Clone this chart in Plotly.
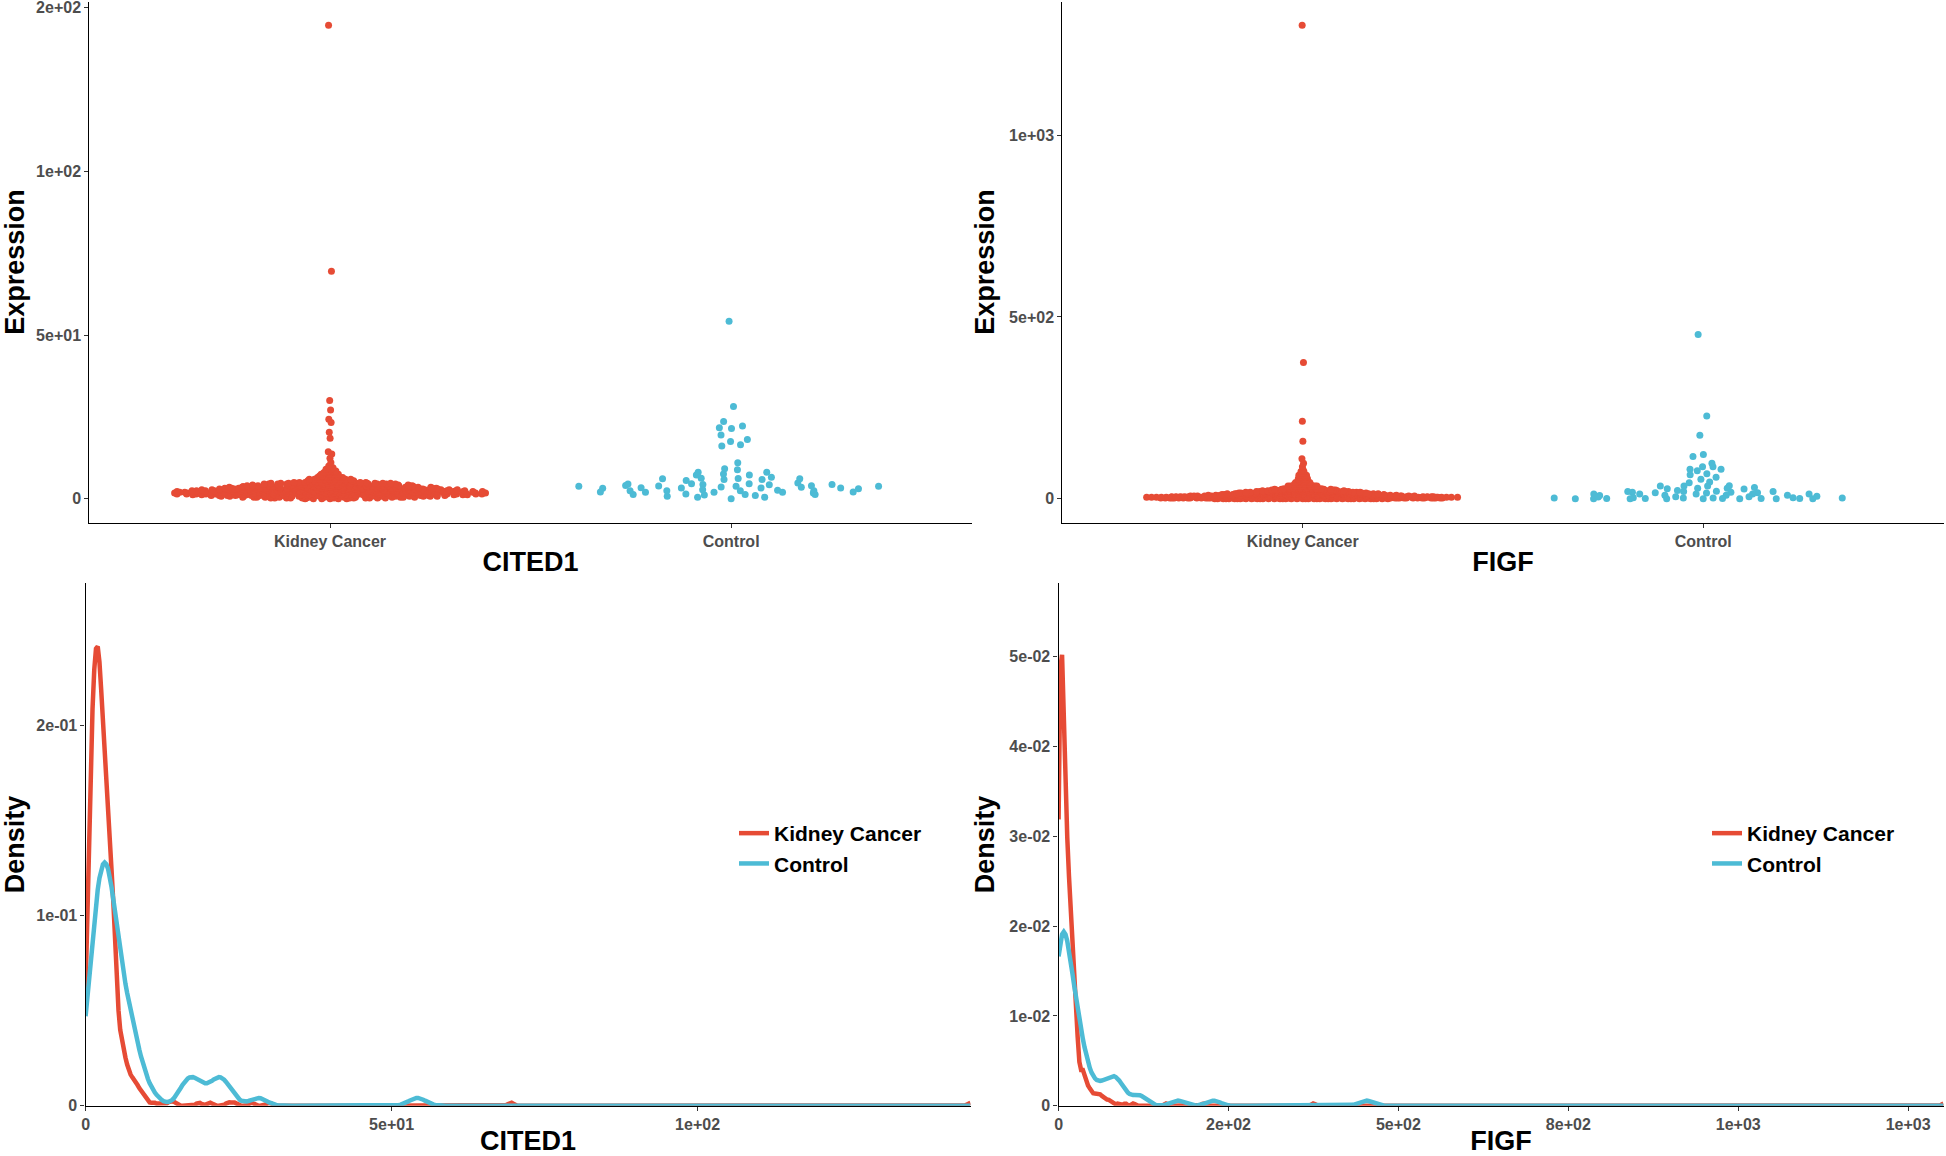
import numpy as np
import plotly.graph_objects as go

# ---------------- data ----------------
groups = ["Kidney Cancer", "Control"]

# CITED1, Kidney Cancer: bulk as value/count table plus the individual high points
cited1_kidney_values = [0.0, 0.25, 0.5, 0.75, 1.0, 1.25, 1.5, 1.75, 2.0, 2.25, 2.5, 2.75,
                        3.0, 3.25, 3.5, 3.75, 4.0, 4.25, 4.5, 4.75, 5.0,
                        5.5, 6.0, 6.5, 7.0, 7.5, 8.0, 8.5, 9.0, 9.5, 10.0]
cited1_kidney_counts = [6, 15, 20, 24, 28, 32, 34, 35, 35, 34, 31, 28,
                        26, 24, 22, 20, 19, 17, 16, 14, 12,
                        11, 9, 7, 5, 4, 4, 3, 2, 2, 1]
cited1_kidney_single = [11.1, 12.4, 13.7, 14.4, 18.5, 20.3, 23.3, 24.3, 27.1, 30.0, 69.5, 144.6]

cited1_control = [3.8, 3.3, 2.1, 4.4, 2.6, 3.4, 1.3, 2.0, 3.9, 5.9, 4.8, 2.5, 0.8, 3.3, 6.3,
                  4.6, 1.5, 7.6, 6.2, 4.1, 2.5, 0.5, 1.2, 2.0, 9.2, 8.1, 7.3, 5.6, 3.6, 0.0,
                  11.0, 3.8, 6.1, 8.1, 2.5, 1.3, 8.9, 6.6, 4.5, 1.0, 3.2, 0.5, 7.3, 6.1, 4.4,
                  2.8, 2.0, 5.9, 4.6, 3.5, 4.0, 2.5, 1.3, 1.8, 4.3, 3.3, 2.1, 3.1, 3.8,
                  21.7, 17.5, 23.6, 22.2, 21.5, 19.5, 18.1, 16.1, 16.5, 28.2, 54.2]

# FIGF, Kidney Cancer
figf_kidney_values = [0, 2, 4, 6, 8, 10, 12, 14, 16, 18, 20, 22, 24, 26, 28, 30,
                      35, 40, 45, 50, 55, 60, 65, 70, 75, 80]
figf_kidney_counts = [41, 75, 69, 57, 47, 40, 36, 33, 28, 25, 22, 18, 15, 12, 9, 7,
                      13, 8, 6, 4, 4, 4, 3, 2, 2, 1]
figf_kidney_single = [88, 98, 110, 158, 213, 375, 1302]

figf_control = [452, 228, 175, 116, 122, 88, 88, 98, 81, 81, 77, 66, 69, 59, 54, 44, 46, 35,
                31, 35, 29, 35, 36, 29, 28, 23, 21, 18, 20, 27, 17, 18, 20, 20, 17, 13, 13, 13,
                16, 10, 10, 9, 10, 13, 13, 7, 2, 0, 0, 1, 1, 0, 2, 0, 5, 2, 0, 3, 0, 0, 6, 1,
                0, 3, 1, 1, 6, 2]

genes = ["CITED1", "FIGF"]
expr_ticks = {"CITED1": ([0, 50, 100, 150], ["0", "5e+01", "1e+02", "2e+02"]),
              "FIGF": ([0, 500, 1000], ["0", "5e+02", "1e+03"])}
dens_xticks = {"CITED1": ([0, 50, 100], ["0", "5e+01", "1e+02"]),
               "FIGF": ([0, 250, 500, 750, 1000, 1250], ["0", "2e+02", "5e+02", "8e+02", "1e+03", "1e+03"])}
dens_yticks = {"CITED1": ([0, 0.1, 0.2], ["0", "1e-01", "2e-01"]),
               "FIGF": ([0, 0.01, 0.02, 0.03, 0.04, 0.05], ["0", "1e-02", "2e-02", "3e-02", "4e-02", "5e-02"])}
dens_ymax = {"CITED1": 0.275, "FIGF": 0.0582}

RED = "#E64B35"
BLUE = "#4DBBD5"
colors = [RED, BLUE]

# ---------------- helpers (stat computations) ----------------
def bw_nrd0(x):
    x = np.asarray(x, float)
    hi = np.std(x, ddof=1)
    q75, q25 = np.percentile(x, [75, 25])
    lo = min(hi, (q75 - q25) / 1.34)
    if lo <= 0:
        lo = hi if hi > 0 else 1.0
    return 0.9 * lo * len(x) ** -0.2


def kde(x, grid, bw):
    x = np.asarray(x, float)
    z = (grid[:, None] - x[None, :]) / bw
    return np.exp(-0.5 * z * z).sum(1) / (len(x) * bw * np.sqrt(2 * np.pi))


def vdc(n, base=2):
    out = np.empty(n)
    for i in range(1, n + 1):
        v, denom, k = 0.0, 1.0, i
        while k > 0:
            denom *= base
            k, r = divmod(k, base)
            v += r / denom
        out[i - 1] = v
    return out


def quasirandom(y, width=0.4, adjust=0.5):
    y = np.asarray(y, float)
    n = len(y)
    ranks = np.argsort(np.argsort(y, kind="stable"), kind="stable")
    offs = vdc(n)[ranks]
    bw = bw_nrd0(y) * adjust
    grid = np.linspace(y.min() - 3 * bw, y.max() + 3 * bw, 512)
    d = kde(y, grid, bw)
    d = d / d.max()
    pdens = np.interp(y, grid, d)
    return (offs - 0.5) * 2 * pdens * width


data = {
    "CITED1": [np.concatenate([np.repeat(cited1_kidney_values, cited1_kidney_counts), cited1_kidney_single]),
               np.array(cited1_control, float)],
    "FIGF": [np.concatenate([np.repeat(figf_kidney_values, figf_kidney_counts), figf_kidney_single]).astype(float),
             np.array(figf_control, float)],
}

# ---------------- layout geometry ----------------
W, H = 1946, 1156
top_x = [(89.4 / W, 971.8 / W), (1062.4 / W, 1943.5 / W)]
bot_x = [(85.6 / W, 970.5 / W), (1058.6 / W, 1943.5 / W)]
top_y = (1 - 522.5 / H, 1 - 1.5 / H)
bot_y = (1 - 1105.8 / H, 1 - 583.0 / H)

TICKFONT = dict(family="Liberation Sans, Arial, sans-serif", size=16, color="#4D4D4D", weight="bold")
TITLEFONT = dict(family="Liberation Sans, Arial, sans-serif", size=27, color="black", weight="bold")

fig = go.Figure()
layout = dict(width=W, height=H, margin=dict(l=0, r=0, t=0, b=0, autoexpand=False),
              paper_bgcolor="white", plot_bgcolor="white", showlegend=True)

axis_common = dict(showline=True, linecolor="black", linewidth=1.3, ticks="outside", ticklen=4,
                   tickcolor="#333333", tickwidth=1.2, showgrid=False, zeroline=False,
                   tickfont=TICKFONT, fixedrange=True, automargin=False,
                   ticklabeloverflow="allow")

for gi, gene in enumerate(genes):
    # --- top: quasirandom scatter ---
    xa, ya = f"x{2*gi+1}", f"y{2*gi+1}"
    xk, yk = f"xaxis{2*gi+1}", f"yaxis{2*gi+1}"
    allv = np.concatenate(data[gene])
    lo, hi = allv.min(), allv.max()
    pad = 0.05 * (hi - lo)
    for k in range(2):
        v = data[gene][k]
        off = quasirandom(v)
        fig.add_trace(go.Scatter(x=k + off, y=v, mode="markers", xaxis=xa, yaxis=ya,
                                 marker=dict(color=colors[k], size=7, line=dict(width=0)),
                                 name=groups[k], showlegend=False, hoverinfo="skip"))
    layout[xk] = dict(axis_common, domain=list(top_x[gi]), anchor=ya, range=[-0.6, 1.6],
                      tickvals=[0, 1], ticktext=groups,
                      title=dict(text=gene, font=TITLEFONT, standoff=3))
    layout[yk] = dict(axis_common, domain=list(top_y), anchor=xa, range=[lo - pad, hi + pad],
                      tickvals=expr_ticks[gene][0], ticktext=expr_ticks[gene][1],
                      title=dict(text="Expression", font=TITLEFONT, standoff=6))

    # --- bottom: density curves ---
    xa, ya = f"x{2*gi+2}", f"y{2*gi+2}"
    xk, yk = f"xaxis{2*gi+2}", f"yaxis{2*gi+2}"
    grid = np.linspace(lo, hi, 512)
    leg = "legend" if gi == 0 else "legend2"
    for k in range(2):
        v = data[gene][k]
        d = kde(v, grid, bw_nrd0(v))
        fig.add_trace(go.Scatter(x=grid, y=d, mode="lines", xaxis=xa, yaxis=ya,
                                 line=dict(color=colors[k], width=4.5), name=groups[k],
                                 legend=leg, showlegend=True, hoverinfo="skip"))
    layout[xk] = dict(axis_common, domain=list(bot_x[gi]), anchor=ya, range=[lo, hi],
                      tickvals=dens_xticks[gene][0], ticktext=dens_xticks[gene][1],
                      title=dict(text=gene, font=TITLEFONT, standoff=4))
    layout[yk] = dict(axis_common, domain=list(bot_y), anchor=xa, range=[0, dens_ymax[gene]],
                      tickvals=dens_yticks[gene][0], ticktext=dens_yticks[gene][1],
                      title=dict(text="Density", font=TITLEFONT, standoff=6))

LEGFONT = dict(family="Liberation Sans, Arial, sans-serif", size=21, color="black", weight="bold")
layout["legend"] = dict(x=734 / W, y=1 - 813 / H, xanchor="left", yanchor="top", font=LEGFONT,
                        bgcolor="rgba(0,0,0,0)", itemwidth=30, tracegroupgap=0)
layout["legend2"] = dict(x=1707 / W, y=1 - 813 / H, xanchor="left", yanchor="top", font=LEGFONT,
                         bgcolor="rgba(0,0,0,0)", itemwidth=30, tracegroupgap=0)

fig.update_layout(**layout)
# remove the browser's default 8px page margin so the figure fills the window exactly
fig.write_html("out.html", config={"displayModeBar": False},
               post_script="document.body.style.margin='0';document.body.style.overflow='hidden';")
